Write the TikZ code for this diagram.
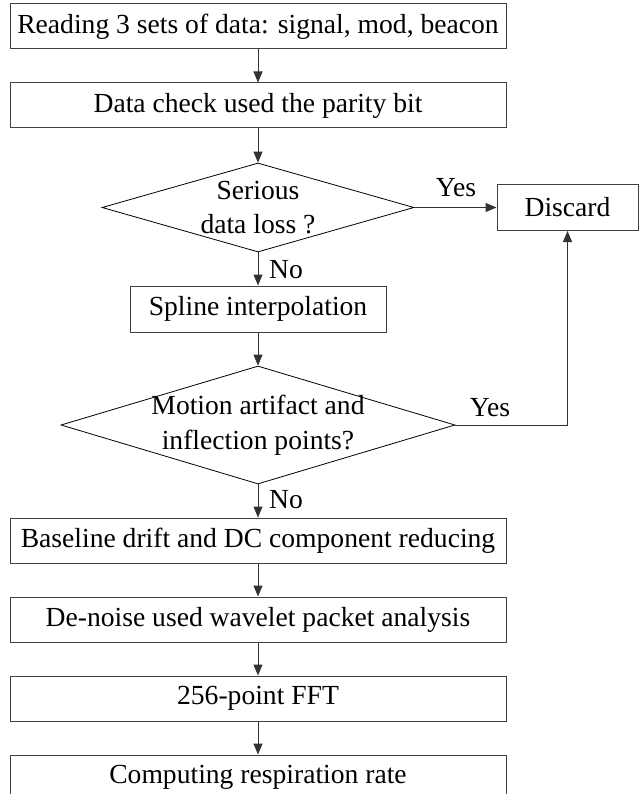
\documentclass[tikz,border=0pt]{standalone}
\usepackage{fontspec}
\setmainfont{Liberation Serif}
\usetikzlibrary{shapes.geometric,arrows.meta}
\begin{document}
\begin{tikzpicture}[x=1pt,y=-1pt,
  every node/.style={font=\fontsize{27.6}{34.5}\selectfont},
  stepbox/.style={draw=black!75,line width=1pt,rectangle,inner sep=0pt,minimum height=45pt},
  dia/.style={draw=black,line width=0.8pt,diamond,inner sep=0pt},
  lbl/.style={inner sep=0pt},
  arr/.style={draw=black!80,line width=1pt,-{Triangle[length=11pt,width=9pt]}},
  ln/.style={draw=black!65,line width=1pt}]
\useasboundingbox (0,0) rectangle (640,794);
\node[stepbox,minimum width=496pt] (b1) at (258,26.5) {Reading 3 sets of data: signal, mod, beacon};
\node[stepbox,minimum width=496pt] (b2) at (258,105.5) {Data check used the parity bit};
\node[dia,minimum width=312pt,minimum height=89pt,
  label={[lbl,align=center]center:Serious\\data loss ?}] (d1) at (258,207.5) {};
\node[stepbox,minimum width=141pt,minimum height=46pt] (dis) at (567.5,207.5) {Discard};
\node[stepbox,minimum width=256pt,minimum height=46pt] (sp) at (258,309) {Spline interpolation};
\node[dia,minimum width=394pt,minimum height=118pt,
  label={[lbl,align=center]center:Motion artifact and\\inflection points?}] (d2) at (258,425) {};
\node[stepbox,minimum width=496pt] (b3) at (258,540.5) {Baseline drift and DC component reducing};
\node[stepbox,minimum width=496pt] (b4) at (258,619.5) {De-noise used wavelet packet analysis};
\node[stepbox,minimum width=496pt] (b5) at (258,698.5) {256-point FFT};
\node[stepbox,minimum width=496pt] (b6) at (258,777.5) {Computing respiration rate};
\node[lbl] (y1) at (456,188) {Yes};
\node[lbl] (y2) at (490,408) {Yes};
\node[lbl,anchor=west] (n1) at (269,270) {No};
\node[lbl,anchor=west] (n2) at (269,500) {No};
\draw[arr] (b1) -- (b2);
\draw[arr] (b2) -- (d1.north);
\draw[arr] (d1.east) -- (dis.west);
\draw[arr] (d1.south) -- (sp);
\draw[arr] (sp) -- (d2.north);
\draw[arr] (d2.east) -| (dis.south);
\draw[arr] (d2.south) -- (b3);
\draw[arr] (b3) -- (b4);
\draw[arr] (b4) -- (b5);
\draw[arr] (b5) -- (b6);
\end{tikzpicture}
\end{document}
